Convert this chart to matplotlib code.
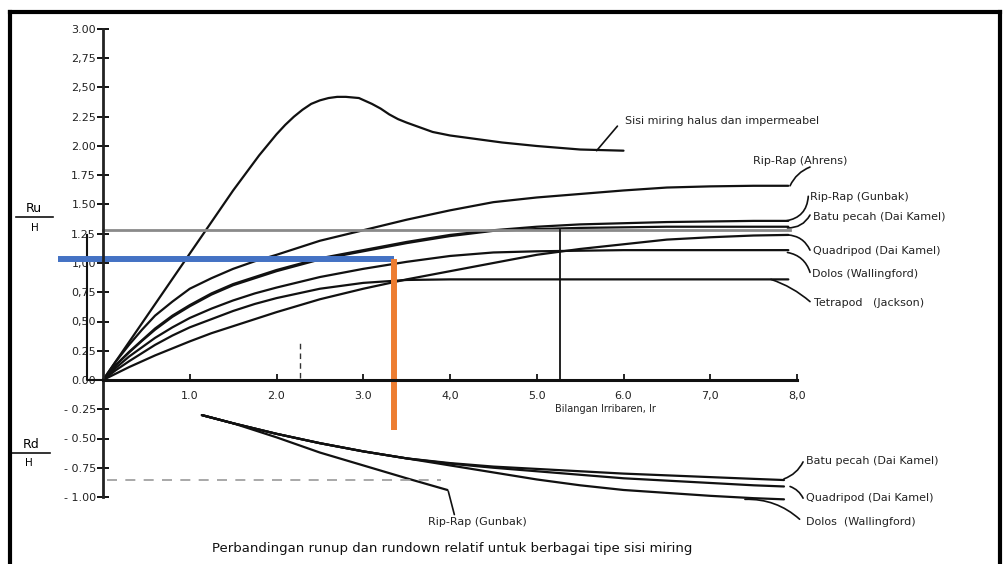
import numpy as np
import matplotlib
matplotlib.use('Agg')
import matplotlib.pyplot as plt
from matplotlib.lines import Line2D

plt.rcParams['font.family'] = ['DejaVu Sans']

# bilangan Irribaren (sumbu x)
ir_halus = [0, 0.5, 1.0, 1.5, 1.8, 2.0, 2.1, 2.2, 2.3, 2.4, 2.5, 2.6, 2.7, 2.8,
            2.95, 3.1, 3.2, 3.3, 3.4, 3.5, 3.65, 3.8, 4.0, 4.2, 4.6, 5.0, 5.5, 6.0]
ru_halus = [0, 0.54, 1.08, 1.62, 1.92, 2.10, 2.18, 2.25, 2.31, 2.36, 2.39, 2.41,
            2.42, 2.42, 2.41, 2.36, 2.32, 2.27, 2.23, 2.20, 2.16, 2.12, 2.09, 2.07,
            2.03, 2.00, 1.97, 1.96]

ir_up = [0, 0.15, 0.3, 0.45, 0.6, 0.8, 1.0, 1.25, 1.5, 1.75, 2.0, 2.5, 3.0, 3.5,
         4.0, 4.5, 5.0, 5.5, 6.0, 6.5, 7.0, 7.5, 7.9]
ru_ahrens = [0, 0.16, 0.30, 0.43, 0.55, 0.67, 0.78, 0.87, 0.95, 1.015, 1.07, 1.19,
             1.28, 1.37, 1.45, 1.52, 1.56, 1.59, 1.62, 1.645, 1.655, 1.66, 1.66]
ru_gunbak = [0, 0.13, 0.24, 0.34, 0.44, 0.55, 0.64, 0.74, 0.82, 0.88, 0.94, 1.04,
             1.11, 1.18, 1.24, 1.28, 1.31, 1.33, 1.34, 1.35, 1.355, 1.36, 1.36]
ru_batu = [0, 0.128, 0.235, 0.335, 0.43, 0.54, 0.63, 0.73, 0.81, 0.87, 0.93, 1.03,
           1.10, 1.17, 1.23, 1.275, 1.29, 1.30, 1.305, 1.31, 1.31, 1.31, 1.31]
ru_quadripod = [0, 0.055, 0.11, 0.16, 0.21, 0.27, 0.33, 0.40, 0.46, 0.52, 0.58, 0.69,
                0.78, 0.86, 0.93, 1.00, 1.07, 1.12, 1.16, 1.20, 1.22, 1.235, 1.24]
ru_dolos = [0, 0.105, 0.20, 0.28, 0.36, 0.45, 0.53, 0.61, 0.68, 0.74, 0.79, 0.88,
            0.95, 1.01, 1.06, 1.09, 1.10, 1.105, 1.11, 1.11, 1.11, 1.11, 1.11]
ru_tetrapod = [0, 0.085, 0.16, 0.23, 0.30, 0.38, 0.45, 0.52, 0.59, 0.65, 0.70, 0.78,
               0.83, 0.855, 0.86, 0.86, 0.86, 0.86, 0.86, 0.86, 0.86, 0.86, 0.86]

# rundown (nilai negatif)
ir_down = [1.14, 1.5, 2.0, 2.5, 3.0, 3.5, 4.0, 4.5, 5.0, 5.5, 6.0, 6.5, 7.0, 7.5, 7.85]
rd_batu = [-0.30, -0.37, -0.46, -0.54, -0.61, -0.67, -0.71, -0.74, -0.76, -0.78,
           -0.80, -0.815, -0.83, -0.845, -0.855]
rd_quadripod = [-0.30, -0.37, -0.46, -0.54, -0.61, -0.67, -0.715, -0.75, -0.78, -0.81,
                -0.84, -0.86, -0.88, -0.90, -0.91]
rd_dolos = [-0.30, -0.37, -0.46, -0.54, -0.61, -0.67, -0.73, -0.79, -0.85, -0.90,
            -0.94, -0.965, -0.99, -1.01, -1.02]
ir_gunbak_down = [1.14, 1.5, 2.0, 2.5, 3.0, 3.5, 3.97]
rd_gunbak = [-0.30, -0.37, -0.49, -0.62, -0.73, -0.84, -0.94]

yticks = [-1.0, -0.75, -0.5, -0.25, 0.0, 0.25, 0.5, 0.75, 1.0, 1.25, 1.5, 1.75,
          2.0, 2.25, 2.5, 2.75, 3.0]
ytick_labels = ['- 1.00', '- 0.75', '- 0.50', '- 0.25', '0.00', '0.25', '0,50', '0,75',
                '1,00', '1.25', '1.50', '1.75', '2.00', '2.25', '2,50', '2,75', '3.00']
xticks = [1, 2, 3, 4, 5, 6, 7, 8]
xtick_labels = ['1.0', '2.0', '3.0', '4,0', '5.0', '6.0', '7,0', '8,0']

# garis bantu pembacaan grafik
ir_baca = 3.35
ru_baca = 1.03

# pixel -> data: 86.75 px per satuan Ir, 117 px per satuan R/H
sx, sy = 86.75, 117.0
x0, y0 = 103, 380

fig = plt.figure(figsize=(10.07, 5.64), dpi=100)
ax = fig.add_axes([0, 0, 1, 1])
ax.set_xlim(-x0 / sx, (1007 - x0) / sx)
ax.set_ylim((y0 - 564) / sy, y0 / sy)

for s in ['top', 'right']:
    ax.spines[s].set_visible(False)
ax.spines['left'].set_position(('data', 0))
ax.spines['bottom'].set_position(('data', 0))
ax.spines['left'].set_bounds(-1, 3)
ax.spines['bottom'].set_bounds(0, 8)
ax.spines['left'].set_linewidth(2)
ax.spines['bottom'].set_linewidth(2.2)
ax.spines['left'].set_color('#222')
ax.spines['bottom'].set_color('#111')

ax.set_yticks(yticks)
ax.set_yticklabels(ytick_labels, fontsize=8, color='#222')
ax.set_xticks(xticks)
ax.set_xticklabels(xtick_labels, fontsize=8, color='#222')
ax.tick_params(axis='y', direction='inout', length=8, width=1.3, pad=1)
ax.tick_params(axis='x', direction='in', length=4, width=1.2, pad=8)

lw = 1.6
c = '#111111'
kw = dict(color=c, lw=lw, solid_joinstyle='round', solid_capstyle='round')
ax.plot(ir_halus, ru_halus, **kw)
ax.plot(ir_up, ru_ahrens, **kw)
ax.plot(ir_up, ru_gunbak, **kw)
ax.plot(ir_up, ru_batu, **kw)
ax.plot(ir_up, ru_quadripod, **kw)
ax.plot(ir_up, ru_dolos, **kw)
ax.plot(ir_up, ru_tetrapod, **kw)

ax.plot(ir_down, rd_batu, **kw)
ax.plot(ir_down, rd_quadripod, **kw)
ax.plot(ir_down, rd_dolos, **kw)
ax.plot(ir_gunbak_down, rd_gunbak, **kw)

# garis referensi
ax.plot([0, 7.92], [1.282, 1.282], color='#8a8a8a', lw=2)
ax.plot([5.27, 5.27], [1.282, 0], color=c, lw=1.3)
ax.plot([-0.19, -0.19, 0], [1.24, 0, 0], color=c, lw=1.5)
ax.plot([2.27, 2.27], [0.02, 0.32], color='#333', lw=1, ls=(0, (4, 3)))
ax.plot([0.05, 3.9], [-0.855, -0.855], color='#999', lw=1.2, ls=(0, (6, 5)))

# garis bantu biru & oranye
ax.plot([-0.52, ir_baca], [ru_baca, ru_baca], color='#4472C4', lw=4.3,
        solid_capstyle='butt')
ax.plot([ir_baca, ir_baca], [ru_baca, -0.43], color='#ED7D31', lw=4.3,
        solid_capstyle='butt')

# label kurva
fs = 8
def label(txt, x, y, x1, y1, x2, y2, rad=0.0):
    ax.annotate('', xy=(x1, y1), xytext=(x2, y2),
                arrowprops=dict(arrowstyle='-', lw=1.2, color=c,
                                connectionstyle='arc3,rad=%s' % rad,
                                shrinkA=0, shrinkB=0))
    ax.text(x, y, txt, fontsize=fs, ha='left', va='center', color='#222')

label('Sisi miring halus dan impermeabel', 6.02, 2.21, 5.69, 1.96, 5.93, 2.17)
label('Rip-Rap (Ahrens)', 7.49, 1.87, 7.92, 1.66, 8.15, 1.82, rad=0.2)
label('Rip-Rap (Gunbak)', 8.15, 1.56, 7.87, 1.36, 8.13, 1.57, rad=-0.4)
label('Batu pecah (Dai Kamel)', 8.18, 1.39, 7.89, 1.30, 8.15, 1.41, rad=-0.3)
label('Quadripod (Dai Kamel)', 8.18, 1.10, 7.89, 1.24, 8.15, 1.11, rad=0.3)
label('Dolos (Wallingford)', 8.17, 0.91, 7.89, 1.09, 8.15, 0.92, rad=0.3)
label('Tetrapod   (Jackson)', 8.2, 0.66, 7.7, 0.86, 8.15, 0.67, rad=0.1)

label('Batu pecah (Dai Kamel)', 8.1, -0.69, 7.85, -0.845, 8.07, -0.70, rad=-0.2)
label('Quadripod (Dai Kamel)', 8.1, -1.01, 7.92, -0.91, 8.07, -1.01, rad=0.2)
label('Dolos  (Wallingford)', 8.1, -1.21, 7.4, -1.02, 8.03, -1.19, rad=0.2)
label('Rip-Rap (Gunbak)', 3.75, -1.21, 3.98, -0.95, 4.05, -1.15)

ax.text(5.79, -0.248, 'Bilangan Irribaren, Ir', fontsize=7, ha='center',
        va='center', color='#222')
ax.text(4.02, -1.436, 'Perbandingan runup dan rundown relatif untuk berbagai tipe sisi miring',
        fontsize=9.5, ha='center', va='center', color='#111')

# Ru/H dan Rd/H
ax.text(-0.80, 1.47, 'Ru', fontsize=9, ha='center', va='center')
ax.plot([-1.0, -0.58], [1.39, 1.39], color=c, lw=1.2, clip_on=False)
ax.text(-0.79, 1.30, 'H', fontsize=7.5, ha='center', va='center')
ax.text(-0.83, -0.555, 'Rd', fontsize=9, ha='center', va='center')
ax.plot([-1.05, -0.61], [-0.625, -0.625], color=c, lw=1.2)
ax.text(-0.86, -0.71, 'H', fontsize=7.5, ha='center', va='center')

# bingkai
for xs, ys in [([10, 10], [0, 552]), ([10, 1000], [552, 552]), ([1000, 1000], [0, 552])]:
    fig.add_artist(Line2D([p / 1007 for p in xs], [p / 564 for p in ys],
                          color='black', lw=3))

plt.savefig('out.png', dpi=100)
